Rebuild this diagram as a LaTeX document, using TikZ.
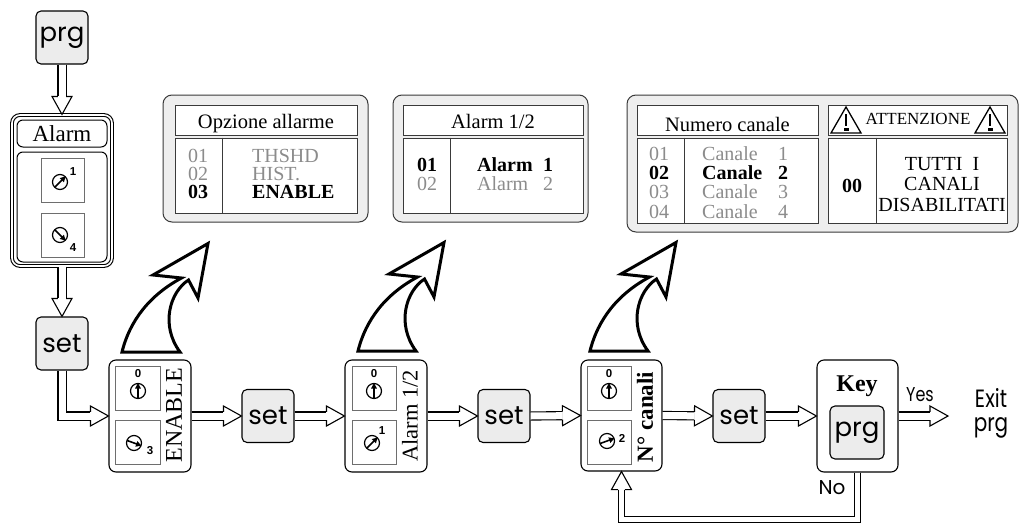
\documentclass[tikz,border=0pt]{standalone}
\usepackage{fontspec}
\setmainfont{Liberation Serif}
\newfontfamily\agfont{Poppins}
\newfontfamily\agcfont[FakeStretch=0.8]{Poppins}
\newfontfamily\digfont{Liberation Sans}
\usetikzlibrary{calc,arrows.meta}
\definecolor{keyfill}{HTML}{ECECEC}
\definecolor{panelfill}{HTML}{EEEEEE}
\definecolor{dimtext}{HTML}{8C8C8C}
\definecolor{scrline}{HTML}{3A3A3A}
\definecolor{iconline}{HTML}{6E6E6E}
\newcommand{\fsz}[1]{\fontsize{#1}{#1}\selectfont}
% hollow arrow head: #1 point behind, #2 tip, #3 shaft half width
\newcommand{\bhead}[3]{%
  \filldraw[fill=white, line width=1.1pt, line join=miter]
    ($(#2)!18pt!(#1)!#3!90:(#2)$) -- ($(#2)!18pt!(#1)!10pt!90:(#2)$) -- (#2)
    -- ($(#2)!18pt!(#1)!10pt!-90:(#2)$) -- ($(#2)!18pt!(#1)!#3!-90:(#2)$);
}
% dial: #1 name, #2 x, #3 y, #4 angle, #5 digit, #6 digit position
\newcommand{\dial}[6]{%
  \coordinate (#1c) at (#2,#3);
  \draw[line width=1.2pt] (#1c) circle[radius=7.5pt];
  \draw[line width=1.6pt, -{Triangle[length=5.5pt,width=5.5pt]}]
    ($(#1c)+({-7.5*cos(#4)},{7.5*sin(#4)})$) -- ($(#1c)+({8*cos(#4)},{-8*sin(#4)})$);
  \node[digit] (#1d) at #6 {#5};
}
\begin{document}
\begin{tikzpicture}[x=1pt,y=-1pt,
  keybtn/.style={draw, line width=1.1pt, rounded corners=5pt, fill=keyfill, inner sep=0pt,
    minimum width=52pt, minimum height=53pt, font=\agfont\fsz{26}},
  stepbox/.style={draw, line width=1.1pt, rounded corners=7pt, inner sep=0pt,
    minimum width=82pt, minimum height=112pt},
  iconbox/.style={draw=iconline, line width=0.8pt, inner sep=0pt, minimum width=44pt, minimum height=44pt},
  digit/.style={font=\digfont\bfseries\fsz{11.5}, inner sep=0pt},
  flow/.style={line width=1.1pt, double distance=7pt, shorten >=18pt},
  panelbox/.style={draw=scrline, line width=1pt, rounded corners=9pt, fill=panelfill, inner sep=0pt},
  scr/.style={draw=scrline, line width=0.9pt, fill=white, inner sep=0pt},
  ptxt/.style={font=\fsz{20}, inner sep=0pt, anchor=base, text height=13pt, text depth=0pt},
  phead/.style={font=\fsz{20.5}, inner sep=0pt, anchor=base},
  pdim/.style={ptxt, text=dimtext},
  pbold/.style={ptxt, font=\bfseries\fsz{20}},
  bigarrow/.style={draw, line width=3pt, fill=white, line join=miter}]
\useasboundingbox (0,0) rectangle (1022,525);
\fill[white] (0,0) rectangle (1022,525);

% ---------- left column ----------
\node[keybtn] (prg0) at (62,37.5) {prg};
\node[draw, line width=1.1pt, double distance=1.6pt, rounded corners=8pt, inner sep=0pt,
  minimum width=100pt, minimum height=151pt] (alarm) at (62,190.5) {};
\node[draw, line width=1pt, rounded corners=6pt, inner sep=0pt, minimum width=90pt, minimum height=27pt,
  font=\fsz{23}] (alarmhd) at (62,133.5) {Alarm};
\node[draw, line width=1pt, rounded corners=6pt, inner sep=0pt, minimum width=90pt, minimum height=110pt]
  (alarmbd) at (62,207) {};
\node[iconbox, minimum width=43pt] (ai1) at (62.5,180) {};
\node[iconbox, minimum width=43pt] (ai2) at (62.5,235) {};
\dial{da1}{60}{182}{45}{1}{(73,172)}
\dial{da2}{60}{235}{-45}{4}{(73,248)}
\node[keybtn] (set0) at (62,343.5) {set};

% ---------- step boxes ----------
\node[stepbox] (enable) at (150,416) {};
\node[iconbox, minimum width=45pt] (ei1) at (137.5,388) {};
\node[iconbox, minimum width=45pt] (ei2) at (137.5,442.5) {};
\dial{de1}{138}{391}{90}{0}{(138,374)}
\dial{de2}{134}{443}{-20}{3}{(150,451)}
\node[rotate=90, font=\fsz{24}, inner sep=0pt] (enabletxt) at (174,415) {ENABLE};

\node[keybtn] (set1) at (268,416) {set};

\node[stepbox] (a12) at (386,416) {};
\node[iconbox] (bi1) at (374,388) {};
\node[iconbox] (bi2) at (374,442) {};
\dial{db1}{374}{391}{90}{0}{(374,374)}
\dial{db2}{372}{443}{45}{1}{(382,431)}
\node[rotate=90, font=\fsz{22.5}, inner sep=0pt] (a12txt) at (410,416) {Alarm 1/2};

\node[keybtn] (set2) at (504,416) {set};

\node[stepbox, minimum width=81pt, minimum height=111pt] (ncan) at (621.5,415.5) {};
\node[iconbox] (ci1) at (609,388) {};
\node[iconbox] (ci2) at (609,442) {};
\dial{dc1}{609}{391}{90}{0}{(609,374)}
\dial{dc2}{607}{441}{20}{2}{(622,438)}
\node[rotate=90, font=\bfseries\fsz{23}, inner sep=0pt] (nctxt) at (645,417) {N° canali};

\node[keybtn] (set3) at (739,416) {set};

\node[stepbox, minimum width=81pt] (key) at (857.5,416) {};
\node[font=\bfseries\fsz{24}, inner sep=0pt, anchor=base] (keytxt) at (857,391) {Key};
\node[keybtn, minimum width=54pt] (keyprg) at (857,432.5) {prg};

\coordinate (exitpt) at (948,416);
\node[font=\agcfont\fsz{20}, inner sep=0pt] (yes) at (920,395) {Yes};
\node[font=\agcfont\fsz{25}, inner sep=0pt, anchor=base, text depth=0pt] (exit1) at (991,407) {Exit};
\node[font=\agcfont\fsz{25}, inner sep=0pt, anchor=base, text height=12pt] (exit2) at (991,431) {prg};
\node[font=\agfont\fsz{20}, inner sep=0pt] (no) at (832,488) {No};

% ---------- connectors ----------
\draw[flow] (prg0.south) -- (alarm.north);
\bhead{prg0.south}{alarm.north}{4.05pt}
\draw[flow] (alarm.south) -- (set0.north);
\bhead{alarm.south}{set0.north}{4.05pt}
\coordinate (e0) at ($(enable.west)+(-30,0)$);
\draw[flow] (set0.south) |- (enable.west);
\bhead{e0}{enable.west}{4.05pt}
\draw[flow] (enable.east) -- (set1.west);
\bhead{enable.east}{set1.west}{4.05pt}
\draw[flow] (set1.east) -- (a12.west);
\bhead{set1.east}{a12.west}{4.05pt}
\draw[flow] (a12.east) -- (set2.west);
\bhead{a12.east}{set2.west}{4.05pt}
\draw[flow] (set2.east) -- (ncan.west);
\bhead{set2.east}{ncan.west}{4.05pt}
\draw[flow] (ncan.east) -- (set3.west);
\bhead{ncan.east}{set3.west}{4.05pt}
\draw[flow] (set3.east) -- (key.west);
\bhead{set3.east}{key.west}{4.05pt}
\draw[flow] (key.east) -- (exitpt);
\bhead{key.east}{exitpt}{4.05pt}
\coordinate (fb) at ($(ncan.south)+(0,30)$);
\draw[flow, double distance=5.5pt] (key.south) -- ++(0,47) -| (ncan.south);
\bhead{fb}{ncan.south}{3.3pt}

% ---------- curved arrows ----------
\foreach \dx/\dy in {0/0, 236/-1, 468/-1} {
  \begin{scope}[shift={(\dx,\dy)}]
    \path[bigarrow] (122,352) .. controls (130,320) and (150,295) .. (181.5,278)
      -- (153,275) -- (208,243.5) -- (198,298) -- (188.5,280)
      .. controls (170,292) and (160,325) .. (180,352) -- cycle;
  \end{scope}
}

% ---------- panel 1 ----------
\node[panelbox, minimum width=205pt, minimum height=127pt] (p1) at (265.5,158.5) {};
\node[scr, minimum width=182pt, minimum height=30pt] (p1h) at (266,120) {};
\node[scr, minimum width=182pt, minimum height=75pt] (p1b) at (266,175.5) {};
\draw[scrline, line width=0.9pt] ($(p1b.north west)+(48,0)$) -- ($(p1b.south west)+(48,0)$);
\node[phead] (p1t) at (266,128) {Opzione allarme};
\node[pdim] (p1n1) at (198,162) {01};
\node[pdim] (p1n2) at (198,180) {02};
\node[pbold] (p1n3) at (198,198) {03};
\node[pdim, anchor=base west] (p1s1) at (252,162) {THSHD};
\node[pdim, anchor=base west] (p1s2) at (252,180) {HIST.};
\node[pbold, anchor=base west] (p1s3) at (252,198) {ENABLE};

% ---------- panel 2 ----------
\node[panelbox, minimum width=195pt, minimum height=127pt] (p2) at (490.5,158.5) {};
\node[scr, minimum width=180pt, minimum height=30pt] (p2h) at (493,120) {};
\node[scr, minimum width=180pt, minimum height=75pt] (p2b) at (493,175.5) {};
\draw[scrline, line width=0.9pt] ($(p2b.north west)+(48,0)$) -- ($(p2b.south west)+(48,0)$);
\node[phead] (p2t) at (493,128) {Alarm 1/2};
\node[pbold] (p2n1) at (427,171) {01};
\node[pdim] (p2n2) at (427,190) {02};
\node[pbold, anchor=base west] (p2s1) at (477,171) {Alarm};
\node[pbold] (p2d1) at (548,171) {1};
\node[pdim, anchor=base west] (p2s2) at (477,190) {Alarm};
\node[pdim] (p2d2) at (548,190) {2};

% ---------- panel 3 ----------
\node[panelbox, minimum width=391pt, minimum height=137pt] (p3) at (822.5,163.5) {};
\node[scr, minimum width=181pt, minimum height=30pt] (p3h) at (727.5,120) {};
\node[scr, minimum width=181pt, minimum height=85pt] (p3b) at (727.5,180.5) {};
\draw[scrline, line width=0.9pt] ($(p3b.north west)+(48,0)$) -- ($(p3b.south west)+(48,0)$);
\node[phead] (p3t) at (727.5,131) {Numero canale};
\node[pdim] (p3n1) at (659,160) {01};
\node[pbold] (p3n2) at (659,179) {02};
\node[pdim] (p3n3) at (659,198) {03};
\node[pdim] (p3n4) at (659,218) {04};
\node[pdim, anchor=base west] (p3s1) at (702,160) {Canale};
\node[pbold, anchor=base west] (p3s2) at (702,179) {Canale};
\node[pdim, anchor=base west] (p3s3) at (702,198) {Canale};
\node[pdim, anchor=base west] (p3s4) at (702,218) {Canale};
\node[pdim] (p3d1) at (783,160) {1};
\node[pbold] (p3d2) at (783,179) {2};
\node[pdim] (p3d3) at (783,198) {3};
\node[pdim] (p3d4) at (783,218) {4};

\node[scr, minimum width=179pt, minimum height=30pt] (p4h) at (917.5,120) {};
\node[scr, minimum width=179pt, minimum height=85pt] (p4b) at (917.5,180.5) {};
\draw[scrline, line width=0.9pt] ($(p4b.north west)+(49,0)$) -- ($(p4b.south west)+(49,0)$);
\node[ptxt, font=\fsz{17}] (p4t) at (918,124) {ATTENZIONE};
\foreach \tx in {846, 990} {
  \draw[line width=1.3pt, line join=miter] (\tx-15,133) -- (\tx+15,133) -- (\tx,107) -- cycle;
  \draw[line width=1.6pt] (\tx,114) -- (\tx,126);
  \fill (\tx-2.5,127.5) rectangle (\tx+2.5,131);
}
\node[pbold] (p4n) at (852,192) {00};
\node[ptxt] (p4s1) at (942,170) {TUTTI\ \ I};
\node[ptxt] (p4s2) at (942,190) {CANALI};
\node[ptxt] (p4s3) at (942,211) {DISABILITATI};
\end{tikzpicture}
\end{document}
